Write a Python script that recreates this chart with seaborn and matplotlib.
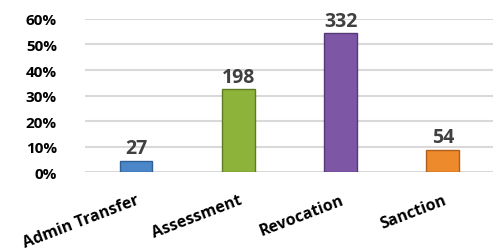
import numpy as np
import pandas as pd
import matplotlib
matplotlib.use("Agg")
import matplotlib.pyplot as plt
import seaborn as sns
from matplotlib.ticker import PercentFormatter

categories = ["Admin Transfer", "Assessment", "Revocation", "Sanction"]
counts = [27, 198, 332, 54]
colors = ["#4a86c8", "#8db33a", "#7d56a6", "#ec8a2c"]
edges = ["#2f5f95", "#5e7b22", "#553878", "#b0601a"]

df = pd.DataFrame({"category": categories, "count": counts})
df["share"] = df["count"] / df["count"].sum()

sns.set_theme(style="white")
plt.rcParams["font.family"] = ["Open Sans", "DejaVu Sans"]

fig = plt.figure(figsize=(4.93, 2.53), dpi=100)
ax = fig.add_axes([0.172, 0.316, 0.83, 0.605])

sns.barplot(data=df, x="category", y="share", hue="category",
            palette=colors, saturation=1, width=0.32, legend=False,
            ax=ax, zorder=3)

for patch, ec in zip(ax.patches, edges):
    patch.set_edgecolor(ec)
    patch.set_linewidth(1.0)

for cont, c in zip(ax.containers, counts):
    ax.bar_label(cont, labels=[str(c)], padding=2, fontsize=14,
                 fontweight="bold", color="#404040")

ax.set_ylim(0, 0.6)
ax.set_yticks(np.arange(0, 0.61, 0.1))
ax.yaxis.set_major_formatter(PercentFormatter(1.0, decimals=0))
ax.set_xlim(-0.5, 3.5)
ax.grid(axis="y", color="#d9d9d9", linewidth=1.5, zorder=0)
sns.despine(ax=ax, left=True, bottom=True)
ax.set_xlabel("")
ax.set_ylabel("")
ax.tick_params(axis="y", length=0, pad=20, labelsize=11)
ax.tick_params(axis="x", length=0, pad=14, labelsize=11.5)
for lbl in ax.get_yticklabels():
    lbl.set_fontweight("bold")
    lbl.set_color("black")
for lbl in ax.get_xticklabels():
    lbl.set_fontweight("bold")
    lbl.set_color("black")
    lbl.set_rotation(21)
    lbl.set_ha("right")
    lbl.set_rotation_mode("anchor")

fig.savefig("out.png", dpi=100)
